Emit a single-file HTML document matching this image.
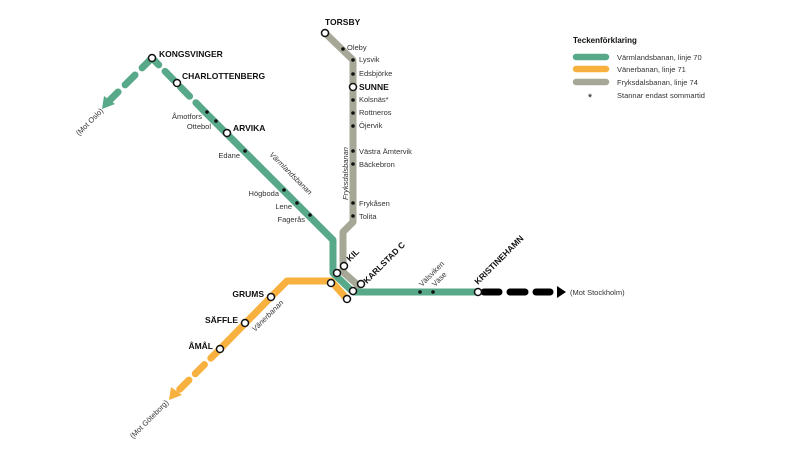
<!DOCTYPE html>
<html><head><meta charset="utf-8"><style>
html,body{margin:0;padding:0;background:#fff;}
svg{display:block;font-family:"Liberation Sans",sans-serif;}
.s{font-size:7.5px;fill:#333;}
.b{font-size:8.5px;font-weight:bold;fill:#111;}
</style></head><body>
<svg width="799" height="449" viewBox="0 0 799 449" xmlns="http://www.w3.org/2000/svg">
<g fill="none" stroke-linejoin="round">
<polyline points="325,33 353,60 353,222 343,232 343,272 361,288" stroke="#a7a797" stroke-width="7"/>
<polyline points="347,299 331,281 287,281 271,297 220,349" stroke="#f8b13f" stroke-width="7"/>
<line x1="220" y1="349" x2="178" y2="391" stroke="#f8b13f" stroke-width="7" stroke-dasharray="13,9" stroke-linecap="round"/>
<polyline points="205,112 333,240 333,273 353,292 478,292" stroke="#58a98a" stroke-width="7"/>
<polyline points="205,112 152,58" stroke="#58a98a" stroke-width="7" stroke-dasharray="13,9" stroke-linecap="round"/>
<line x1="152" y1="58" x2="110" y2="100" stroke="#58a98a" stroke-width="7" stroke-dasharray="14,10" stroke-linecap="round"/>
<line x1="484" y1="292" x2="550" y2="292" stroke="#000" stroke-width="7" stroke-dasharray="15,11" stroke-linecap="round"/>
</g>
<polygon points="102,109 104,96 115,104" fill="#58a98a"/>
<polygon points="169,400 171,387 182,395" fill="#f8b13f"/>
<polygon points="557,286 557,298 566,292" fill="#000"/>
<g fill="#111">
<circle cx="343" cy="49" r="1.8"/><circle cx="353" cy="60" r="1.8"/><circle cx="353" cy="74" r="1.8"/>
<circle cx="353" cy="100" r="1.8"/><circle cx="353" cy="113" r="1.8"/><circle cx="353" cy="126" r="1.8"/>
<circle cx="353" cy="151" r="1.8"/><circle cx="353" cy="164" r="1.8"/><circle cx="353" cy="203" r="1.8"/><circle cx="353" cy="216" r="1.8"/>
<circle cx="207" cy="112" r="1.8"/><circle cx="216" cy="121" r="1.8"/><circle cx="245" cy="151" r="1.8"/>
<circle cx="284" cy="190" r="1.8"/><circle cx="297" cy="203" r="1.8"/><circle cx="310" cy="215" r="1.8"/>
<circle cx="420" cy="292" r="1.8"/><circle cx="433" cy="292" r="1.8"/>
</g>
<g fill="#fff" stroke="#111" stroke-width="1.5">
<circle cx="325" cy="33" r="3.5"/><circle cx="353" cy="87" r="3.5"/>
<circle cx="152" cy="58" r="3.5"/><circle cx="177" cy="83" r="3.5"/><circle cx="227" cy="133" r="3.5"/>
<circle cx="344" cy="266" r="3.5"/><circle cx="337" cy="273" r="3.5"/><circle cx="331" cy="283" r="3.5"/>
<circle cx="361" cy="284" r="3.5"/><circle cx="353" cy="291" r="3.5"/><circle cx="347" cy="299" r="3.5"/>
<circle cx="478" cy="292" r="3.5"/>
<circle cx="271" cy="297" r="3.5"/><circle cx="245" cy="323" r="3.5"/><circle cx="220" cy="349" r="3.5"/>
</g>
<text class="b" x="325" y="25">TORSBY</text>
<text class="b" x="159" y="57">KONGSVINGER</text>
<text class="b" x="182" y="79">CHARLOTTENBERG</text>
<text class="b" x="233" y="131">ARVIKA</text>
<text class="b" x="359" y="90">SUNNE</text>
<text class="b" x="264" y="297" text-anchor="end">GRUMS</text>
<text class="b" x="238" y="323" text-anchor="end">SÄFFLE</text>
<text class="b" x="213" y="349" text-anchor="end">ÅMÅL</text>
<text class="b" transform="translate(350,262) rotate(-45)">KIL</text>
<text class="b" transform="translate(367,284) rotate(-45)">KARLSTAD C</text>
<text class="b" transform="translate(478,285) rotate(-45)">KRISTINEHAMN</text>
<text class="s" x="347" y="50">Oleby</text>
<text class="s" x="359" y="62">Lysvik</text>
<text class="s" x="359" y="76">Edsbjörke</text>
<text class="s" x="359" y="102">Kolsnäs*</text>
<text class="s" x="359" y="115">Rottneros</text>
<text class="s" x="359" y="128">Öjervik</text>
<text class="s" x="359" y="154">Västra Ämtervik</text>
<text class="s" x="359" y="167">Bäckebron</text>
<text class="s" x="359" y="206">Frykåsen</text>
<text class="s" x="359" y="219">Tolita</text>
<text class="s" x="202" y="119" text-anchor="end">Åmotfors</text>
<text class="s" x="211" y="129" text-anchor="end">Ottebol</text>
<text class="s" x="240" y="158" text-anchor="end">Edane</text>
<text class="s" x="279" y="196" text-anchor="end">Högboda</text>
<text class="s" x="292" y="209" text-anchor="end">Lene</text>
<text class="s" x="305" y="222" text-anchor="end">Fagerås</text>
<text class="s" font-style="italic" transform="translate(269,155) rotate(45)">Värmlandsbanan</text>
<text class="s" font-style="italic" transform="translate(348,200) rotate(-90)">Fryksdalsbanan</text>
<text class="s" font-style="italic" transform="translate(255,332) rotate(-45)">Vänerbanan</text>
<text class="s" transform="translate(422,287) rotate(-45)">Välsviken</text>
<text class="s" transform="translate(435,287) rotate(-45)">Väse</text>
<text class="s" x="570" y="295">(Mot Stockholm)</text>
<text class="s" transform="translate(79,136) rotate(-45)">(Mot Oslo)</text>
<text class="s" transform="translate(133,439) rotate(-45)">(Mot Göteborg)</text>
<text x="573" y="43" font-size="8" font-weight="bold" fill="#111">Teckenförklaring</text>
<g stroke-width="6.5" stroke-linecap="round">
<line x1="576" y1="57" x2="606" y2="57" stroke="#58a98a"/>
<line x1="576" y1="69" x2="606" y2="69" stroke="#f8b13f"/>
<line x1="576" y1="82" x2="606" y2="82" stroke="#a7a797"/>
</g>
<text class="s" font-size="8" x="617" y="60">Värmlandsbanan, linje 70</text>
<text class="s" font-size="8" x="617" y="72">Vänerbanan, linje 71</text>
<text class="s" font-size="8" x="617" y="85">Fryksdalsbanan, linje 74</text>
<text x="590" y="101" font-size="11" fill="#111" text-anchor="middle">*</text>
<text class="s" font-size="8" x="617" y="98">Stannar endast sommartid</text>
</svg>
</body></html>
